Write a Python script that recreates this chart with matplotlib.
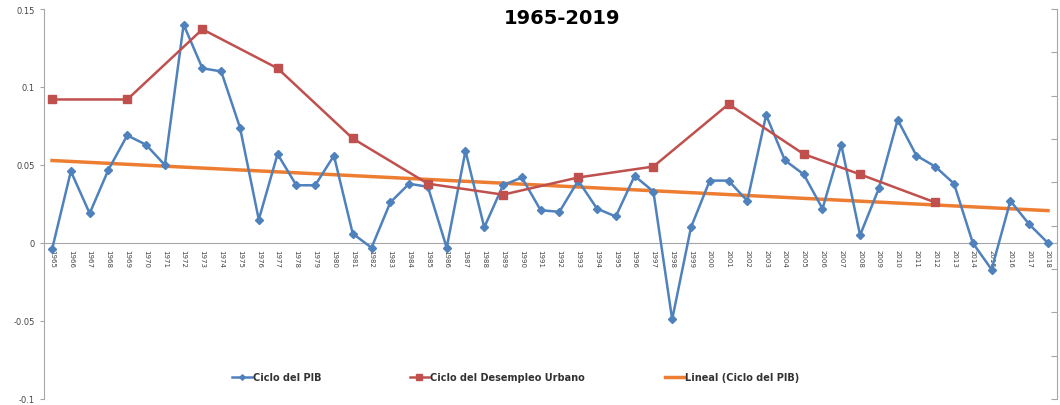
import numpy as np
import matplotlib.pyplot as plt
from matplotlib.legend import Legend

# Datos
anios = list(range(1965, 2019))
ciclo_pib = [-0.004, 0.046, 0.019, 0.047, 0.069, 0.063, 0.050, 0.140, 0.112, 0.110,
             0.074, 0.015, 0.057, 0.037, 0.037, 0.056, 0.006, -0.003, 0.026, 0.038,
             0.036, -0.003, 0.059, 0.010, 0.037, 0.042, 0.021, 0.020, 0.040, 0.022,
             0.017, 0.043, 0.033, -0.049, 0.010, 0.040, 0.040, 0.027, 0.082, 0.053,
             0.044, 0.022, 0.063, 0.005, 0.035, 0.079, 0.056, 0.049, 0.038, 0.000,
             -0.017, 0.027, 0.012, 0.000]
anios_desempleo = [1965, 1969, 1973, 1977, 1981, 1985, 1989, 1993, 1997, 2001, 2005, 2008, 2012]
ciclo_desempleo = [0.092, 0.092, 0.137, 0.112, 0.067, 0.038, 0.031, 0.042, 0.049, 0.089,
                   0.057, 0.044, 0.026]
ticks_y = [-0.1, -0.05, 0, 0.05, 0.1, 0.15]
etiquetas_y = ['-0.1', '-0.05', '0', '0.05', '0.1', '0.15']

azul = '#4F81BD'
rojo = '#C0504D'
naranja = '#ED7D31'
gris = '#A6A6A6'

fig = plt.figure(figsize=(10.6, 4.06), dpi=100)
ax = fig.add_axes([44 / 1060, 6 / 406, 1013 / 1060, 390 / 406])

l1, = ax.plot(anios, ciclo_pib, color=azul, lw=1.8, marker='D', ms=4, label='Ciclo del PIB', zorder=3)
l2, = ax.plot(anios_desempleo, ciclo_desempleo, color=rojo, lw=1.8, marker='s', ms=6,
              label='Ciclo del Desempleo Urbano', zorder=3)

# tendencia lineal del PIB
x = np.array(anios)
m, b = np.polyfit(x, ciclo_pib, 1)
l3, = ax.plot(x, m * x + b, color=naranja, lw=2.5, label='Lineal (Ciclo del PIB)', zorder=2)

ax.spines['bottom'].set_position(('data', 0))
ax.spines['bottom'].set_color(gris)
ax.spines['left'].set_color(gris)
ax.spines['top'].set_visible(False)
ax.spines['right'].set_visible(False)

ax.set_xlim(1964.57, 2018.48)
ax.set_ylim(-0.1, 0.15)
ax.set_yticks(ticks_y)
ax.set_yticklabels(etiquetas_y)
ax.set_xticks(anios)
ax.set_xticklabels([str(a) for a in anios])
ax.tick_params(axis='x', labelrotation=-90, labelsize=5, labelcolor='#444444', length=0, pad=4)
ax.tick_params(axis='y', labelsize=6, labelcolor='#444444', color=gris, length=3, direction='out')

# eje secundario sin etiquetas
ax2 = ax.twinx()
ax2.set_ylim(0, 9)
ax2.set_yticks(range(10))
ax2.set_yticklabels([])
ax2.tick_params(axis='y', direction='in', length=4, color=gris)
ax2.spines['right'].set_color(gris)
for s in ['top', 'left', 'bottom']:
    ax2.spines[s].set_visible(False)

# leyenda: tres entradas separadas como en el original
pos_leyenda = [0.186, 0.361, 0.613]
for linea, xpos in zip([l1, l2, l3], pos_leyenda):
    leg = Legend(ax2, [linea], [linea.get_label()], loc='center left',
                 bbox_to_anchor=(xpos, 0.056), frameon=False, fontsize=7,
                 handlelength=2, handletextpad=0.1, borderpad=0, borderaxespad=0,
                 markerscale=0.7)
    for t in leg.get_texts():
        t.set_fontweight('bold')
        t.set_color('#333333')
    ax2.add_artist(leg)

fig.text(0.53, 0.955, '1965-2019', ha='center', va='center', fontsize=14, fontweight='bold')

fig.savefig('out.png', dpi=100)
